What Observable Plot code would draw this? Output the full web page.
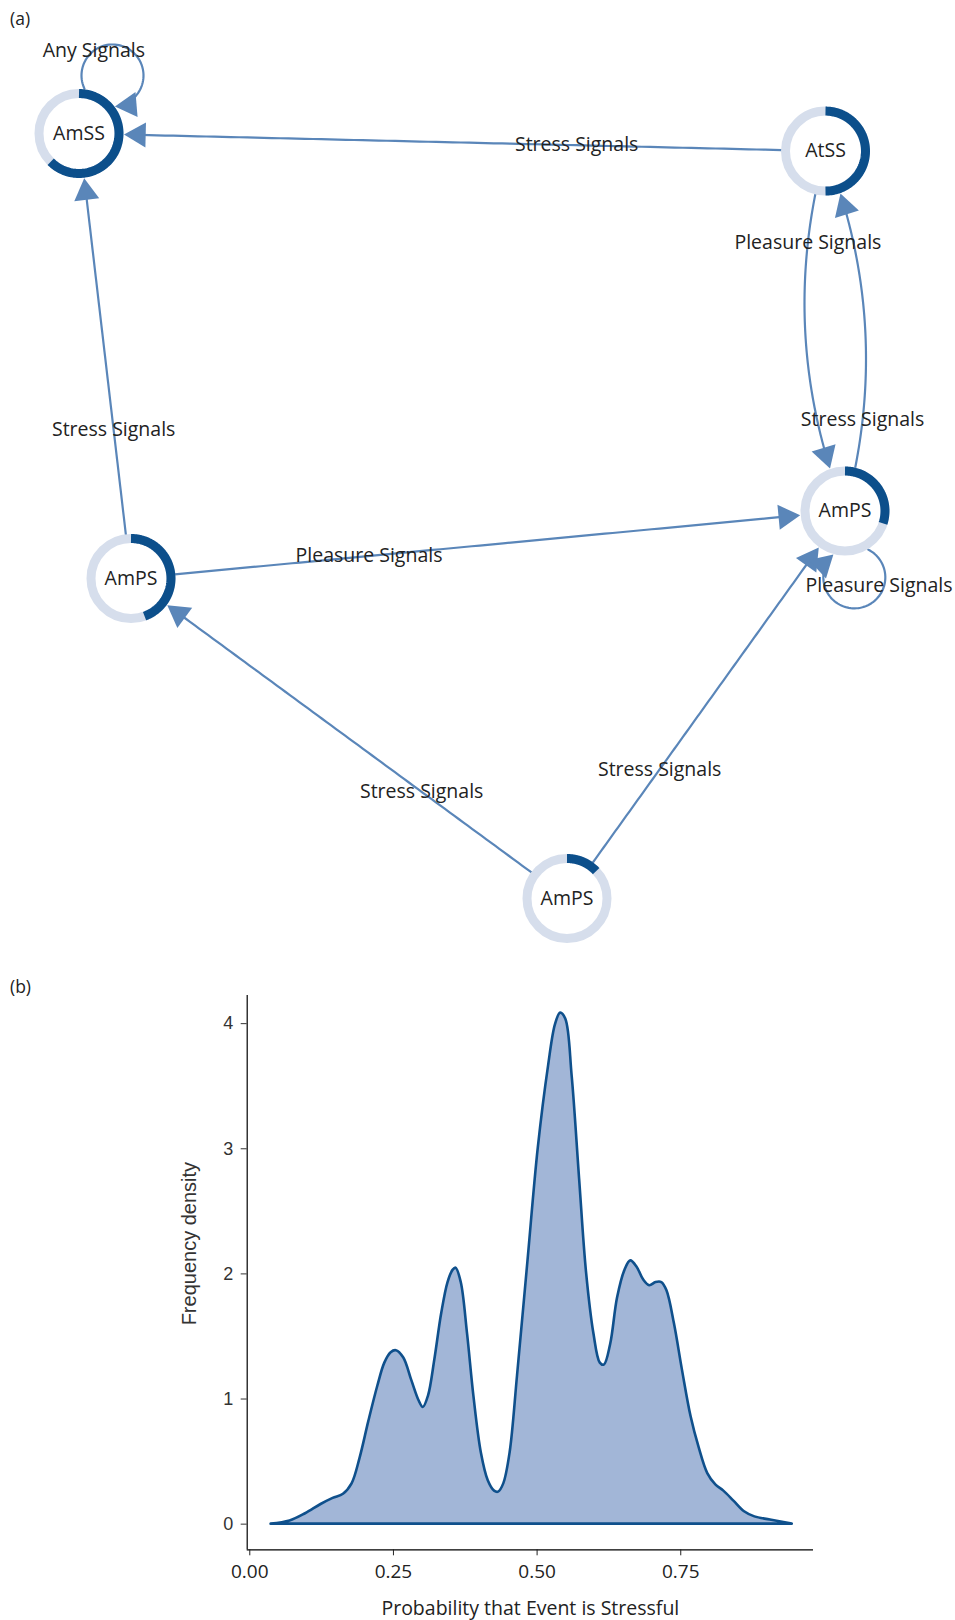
<!DOCTYPE html>
<html><head><meta charset="utf-8">
<script src="https://cdn.jsdelivr.net/npm/d3@7"></script>
<script src="https://cdn.jsdelivr.net/npm/@observablehq/plot@0.6"></script>
<style>
html,body{margin:0;padding:0;background:#fff;}
#wrap{position:relative;width:955px;height:1620px;overflow:hidden;}
#a{position:absolute;left:0;top:0;}
#b{position:absolute;left:0;top:960px;}
.panel{position:absolute;left:10px;font-family:"Open Sans",sans-serif;font-size:17.5px;color:#222;line-height:1;}
</style></head><body>
<div id="wrap">
<div id="a"></div><div id="b"></div>
<div class="panel" style="top:10px">(a)</div>
<div class="panel" style="top:978px">(b)</div>
</div>
<script>
// ---------- Panel (a): network ----------
const nodeIds   = ["AmSS", "AtSS", "AmPS_R", "AmPS_L", "AmPS_B"];
const nodeNames = ["AmSS", "AtSS", "AmPS", "AmPS", "AmPS"];
const nodeShare = [0.625, 0.5, 0.30, 0.445, 0.13];          // dark part of each ring
const nodeLayoutX = [78.5, 825, 844.5, 130.5, 566.5];          // graph layout
const nodeLayoutY = [133, 150.6, 510.5, 578, 898];

const edgeFrom  = ["AtSS", "AmPS_L", "AmPS_L", "AtSS", "AmPS_R", "AmPS_B", "AmPS_B", "AmSS", "AmPS_R"];
const edgeTo    = ["AmSS", "AmSS", "AmPS_R", "AmPS_R", "AtSS", "AmPS_L", "AmPS_R", "AmSS", "AmPS_R"];
const edgeLabel = ["Stress Signals", "Stress Signals", "Pleasure Signals", "Pleasure Signals", "Stress Signals",
                   "Stress Signals", "Stress Signals", "Any Signals", "Pleasure Signals"];
const edgeCurved = [false, false, false, true, true, false, false, false, false];
const loopDirection = {AmSS: -60, AmPS_R: 82};

// ---------- Panel (b): density ----------
const probability = [0.037,0.070,0.097,0.124,0.145,0.163,0.178,0.192,0.207,0.223,
  0.235,0.246,0.255,0.268,0.282,0.295,0.302,0.311,0.322,0.334,
  0.345,0.354,0.359,0.368,0.379,0.390,0.403,0.415,0.426,0.433,
  0.442,0.453,0.466,0.484,0.502,0.520,0.532,0.541,0.550,0.561,
  0.574,0.586,0.599,0.610,0.617,0.628,0.640,0.653,0.663,0.674,
  0.685,0.696,0.707,0.717,0.726,0.739,0.753,0.768,0.782,0.797,
  0.811,0.825,0.843,0.861,0.879,0.906,0.944];
const density = [0,0.025,0.083,0.157,0.206,0.239,0.322,0.528,0.817,1.106,
  1.287,1.370,1.386,1.328,1.147,0.982,0.932,1.023,1.312,1.683,
  1.931,2.030,2.046,1.931,1.518,1.023,0.569,0.347,0.264,0.256,
  0.322,0.569,1.188,2.096,3.003,3.663,3.993,4.084,4.035,3.581,
  2.756,2.013,1.518,1.287,1.271,1.436,1.807,2.030,2.104,2.054,
  1.955,1.906,1.931,1.931,1.865,1.601,1.229,0.858,0.611,0.404,
  0.314,0.264,0.182,0.099,0.058,0.033,0];
const xTicks = [0, 0.25, 0.5, 0.75];
const yTicks = [0, 1, 2, 3, 4];

// ---------- styles ----------
const EDGE = "#5a86b9", RING_LIGHT = "#d6deec", RING_DARK = "#0c4f8b";
const FILL = "#a2b6d7", LINE = "#0f508c";
const FONT = "'Open Sans', sans-serif";
const LABEL_SIZE = 19.5;
const RING_R = 40, RING_W = 9, R_START = 44, R_TIP = 45;
const LOOP_D = 67, LOOP_R = 31, BEND = 60, HEAD_R = 9.3;
const W = 955, HA = 960;

// ---------- build network geometry ----------
const nodes = nodeIds.map((id, i) => ({id, name: nodeNames[i], share: nodeShare[i], x: nodeLayoutX[i], y: nodeLayoutY[i]}));
const byId = new Map(nodes.map(n => [n.id, n]));

function bisect(g, lo, hi) {
  const glo = g(lo);
  for (let k = 0; k < 60; k++) {
    const mid = (lo + hi) / 2;
    if ((g(mid) < 0) === (glo < 0)) lo = mid; else hi = mid;
  }
  return (lo + hi) / 2;
}
const ctx = document.createElement("canvas").getContext("2d");
ctx.font = `${LABEL_SIZE}px ${FONT}`;

const edgePts = [], arrows = [], labels = [];
edgeFrom.forEach((fid, i) => {
  const S = byId.get(fid), T = byId.get(edgeTo[i]);
  let f, t0, t1, lt;
  if (S === T) {
    const a = loopDirection[S.id] * Math.PI / 180;
    const L = [S.x + LOOP_D * Math.cos(a), S.y + LOOP_D * Math.sin(a)];
    const phi = a + Math.PI;
    const alpha = Math.acos((LOOP_D ** 2 + LOOP_R ** 2 - R_TIP ** 2) / (2 * LOOP_D * LOOP_R));
    const th0 = phi + alpha, th1 = phi + 2 * Math.PI - alpha;
    f = t => { const th = th0 + (th1 - th0) * t; return [L[0] + LOOP_R * Math.cos(th), L[1] + LOOP_R * Math.sin(th)]; };
    t0 = 0; t1 = 1; lt = 0.27;
  } else {
    const dx = T.x - S.x, dy = T.y - S.y, len = Math.hypot(dx, dy);
    const b = edgeCurved[i] ? BEND : 0;
    const Q = [(S.x + T.x) / 2 - dy / len * b, (S.y + T.y) / 2 + dx / len * b];
    f = t => [(1 - t) ** 2 * S.x + 2 * t * (1 - t) * Q[0] + t * t * T.x,
              (1 - t) ** 2 * S.y + 2 * t * (1 - t) * Q[1] + t * t * T.y];
    t0 = bisect(t => Math.hypot(f(t)[0] - S.x, f(t)[1] - S.y) - R_START, 0, 0.5);
    t1 = bisect(t => Math.hypot(f(t)[0] - T.x, f(t)[1] - T.y) - R_TIP, 0.5, 1);
    lt = edgeCurved[i] ? 0.25 : 1 / 3;
  }
  const tip = f(t1), prev = f(t1 - 0.002);
  let ux = tip[0] - prev[0], uy = tip[1] - prev[1];
  const ul = Math.hypot(ux, uy); ux /= ul; uy /= ul;
  const n = 80;
  for (let k = 0; k <= n; k++) {
    const p = f(t0 + (t1 - t0) * k / n);
    if (Math.hypot(p[0] - tip[0], p[1] - tip[1]) < 10) continue;
    edgePts.push({e: i, x: p[0], y: p[1]});
  }
  const off = 2 * 0.7776 * HEAD_R;
  arrows.push({x: tip[0] - ux * off, y: tip[1] - uy * off, rot: Math.atan2(ux, -uy) * 180 / Math.PI});
  const lp = f(lt);
  const half = ctx.measureText(edgeLabel[i]).width / 2;
  const lx = Math.max(half + 3, Math.min(W - half - 3, lp[0]));
  labels.push({x: lx, y: lp[1], text: edgeLabel[i]});
});

const arcPts = [];
nodes.forEach(nd => {
  const m = 90;
  for (let k = 0; k <= m; k++) {
    const th = -Math.PI / 2 + nd.share * 2 * Math.PI * k / m;
    arcPts.push({id: nd.id, x: nd.x + RING_R * Math.cos(th), y: nd.y + RING_R * Math.sin(th)});
  }
});

const chartA = Plot.plot({
  width: W, height: HA,
  margin: 0,
  x: {domain: [0, W], range: [0, W], axis: null},
  y: {domain: [0, HA], range: [0, HA], axis: null},
  style: {fontFamily: FONT, background: "transparent"},
  marks: [
    Plot.line(edgePts, {x: "x", y: "y", z: "e", stroke: EDGE, strokeWidth: 2.2, curve: "linear"}),
    Plot.dot(nodes, {x: "x", y: "y", r: RING_R, fill: "white", stroke: RING_LIGHT, strokeWidth: RING_W}),
    Plot.line(arcPts, {x: "x", y: "y", z: "id", stroke: RING_DARK, strokeWidth: RING_W, strokeLinecap: "butt", curve: "linear"}),
    Plot.dot(arrows, {x: "x", y: "y", rotate: "rot", symbol: "triangle", r: HEAD_R, fill: EDGE, stroke: "none"}),
    Plot.text(nodes, {x: "x", y: "y", text: "name", fontSize: LABEL_SIZE, fill: "#222", fontFamily: FONT}),
    Plot.text(labels, {x: "x", y: "y", text: "text", fontSize: LABEL_SIZE, fill: "#222", fontFamily: FONT})
  ]
});
document.getElementById("a").appendChild(chartA);

// ---------- density chart ----------
const dens = probability.map((p, i) => ({p, d: density[i]}));
const X0 = -0.0045, X1 = 0.981, Y0 = -0.205, Y1 = 4.225;
const chartB = Plot.plot({
  width: W, height: 660,
  marginLeft: 246.7, marginRight: 142, marginTop: 35, marginBottom: 70.7,
  x: {domain: [X0, X1], axis: null},
  y: {domain: [Y0, Y1], axis: null},
  style: {fontFamily: FONT, background: "transparent"},
  marks: [
    Plot.areaY(dens, {x: "p", y: "d", fill: FILL, stroke: LINE, strokeWidth: 2.6, strokeLinejoin: "round", curve: "catmull-rom"}),
    Plot.ruleX([X0], {stroke: "black", strokeWidth: 1.2}),
    Plot.ruleY([Y0], {stroke: "black", strokeWidth: 1.2}),
    Plot.axisX({ticks: xTicks, tickFormat: d3.format(".2f"), tickSize: 6, tickPadding: 9, fontSize: 19, fontFamily: FONT, color: "#222", label: null}),
    Plot.axisY({ticks: yTicks, tickFormat: d3.format("d"), tickSize: 6, tickPadding: 8, fontSize: 18, fontFamily: "'Liberation Sans', Arial, sans-serif", color: "#333", label: null}),
    Plot.text(["Frequency density"], {frameAnchor: "left", dx: -58, dy: -29, rotate: -90, textAnchor: "middle", lineAnchor: "middle", fontSize: 20, fill: "#333", fontFamily: "'Liberation Sans', Arial, sans-serif"}),
    Plot.text(["Probability that Event is Stressful"], {frameAnchor: "bottom", dy: 59, lineAnchor: "middle", fontSize: 19.5, fill: "#222", fontFamily: FONT})
  ]
});
document.getElementById("b").appendChild(chartB);
</script>
</body></html>
